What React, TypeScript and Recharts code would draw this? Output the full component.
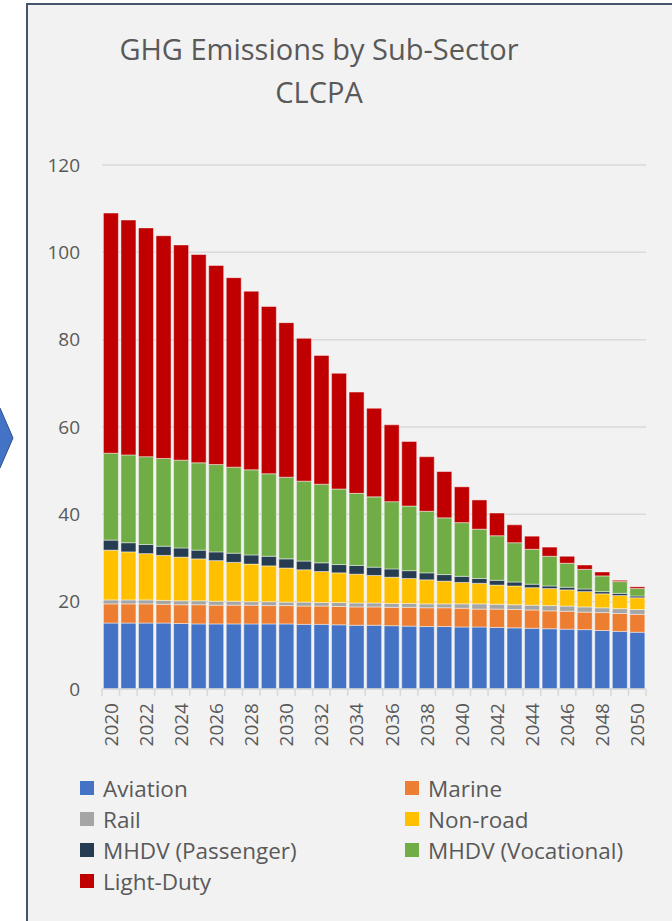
import React from "react";
import { BarChart, Bar, XAxis, YAxis, CartesianGrid } from "recharts";

const years = [
  "2020", "2021", "2022", "2023", "2024", "2025", "2026", "2027", "2028", "2029", "2030",
  "2031", "2032", "2033", "2034", "2035", "2036", "2037", "2038", "2039", "2040",
  "2041", "2042", "2043", "2044", "2045", "2046", "2047", "2048", "2049", "2050",
];

const aviation = [15.1, 15.1, 15.1, 15.1, 15.0, 14.9, 14.9, 14.9, 14.9, 14.9, 14.9, 14.8, 14.8, 14.7, 14.6, 14.6, 14.5, 14.4, 14.3, 14.3, 14.2, 14.2, 14.1, 14.0, 13.9, 13.8, 13.7, 13.6, 13.4, 13.2, 13.0];
const marine = [4.4, 4.4, 4.4, 4.3, 4.3, 4.4, 4.3, 4.3, 4.3, 4.2, 4.2, 4.2, 4.2, 4.2, 4.2, 4.2, 4.2, 4.3, 4.3, 4.3, 4.3, 4.1, 4.2, 4.2, 4.2, 4.1, 4.1, 4.0, 4.1, 4.1, 4.1];
const rail = [0.9, 0.9, 0.9, 0.9, 0.9, 0.9, 0.9, 0.9, 0.8, 0.9, 0.8, 0.9, 0.8, 0.9, 0.9, 0.9, 0.9, 0.9, 0.9, 0.9, 1.0, 1.2, 1.1, 1.1, 1.1, 1.2, 1.2, 1.2, 1.1, 1.1, 1.1];
const nonRoad = [11.4, 11.0, 10.6, 10.3, 10.0, 9.6, 9.3, 8.9, 8.6, 8.2, 7.8, 7.4, 7.1, 6.8, 6.6, 6.3, 6.0, 5.7, 5.5, 5.2, 4.9, 4.7, 4.4, 4.3, 4.0, 3.9, 3.7, 3.5, 3.2, 3.0, 2.7];
const mhdvPassenger = [2.3, 2.1, 2.1, 2.1, 2.1, 2.0, 2.0, 2.1, 2.1, 2.2, 2.1, 2.0, 2.0, 1.9, 2.0, 1.9, 1.9, 1.8, 1.6, 1.5, 1.4, 1.1, 1.1, 0.9, 0.8, 0.6, 0.6, 0.6, 0.5, 0.5, 0.4];
const mhdvVocational = [19.9, 20.1, 20.1, 20.1, 20.1, 20.0, 20.0, 19.7, 19.5, 18.9, 18.7, 18.3, 18.0, 17.3, 16.5, 16.1, 15.4, 14.8, 14.1, 13.0, 12.3, 11.3, 10.2, 9.0, 8.0, 6.8, 5.5, 4.5, 3.6, 2.7, 1.7];
const lightDuty = [55.0, 53.8, 52.4, 51.0, 49.3, 47.7, 45.6, 43.4, 40.9, 38.3, 35.4, 32.7, 29.5, 26.5, 23.2, 20.3, 17.6, 14.8, 12.5, 10.6, 8.2, 6.7, 5.2, 4.1, 3.0, 2.1, 1.6, 1.0, 0.9, 0.3, 0.4];

const yTicks = [0, 20, 40, 60, 80, 100, 120];

const series = [
  { key: "Aviation", values: aviation, color: "#4472c4" },
  { key: "Marine", values: marine, color: "#ed7d31" },
  { key: "Rail", values: rail, color: "#a5a5a5" },
  { key: "Non-road", values: nonRoad, color: "#ffc000" },
  { key: "MHDV (Passenger)", values: mhdvPassenger, color: "#263c50" },
  { key: "MHDV (Vocational)", values: mhdvVocational, color: "#70ad47" },
  { key: "Light-Duty", values: lightDuty, color: "#c00000" },
];

const data = years.map((year, i) => {
  const row: Record<string, string | number> = { year };
  series.forEach((s) => {
    row[s.key] = s.values[i];
  });
  return row;
});

const FONT = "'Open Sans', sans-serif";
const TEXT = "#595959";
const GRID = "#d9d9d9";
const STEP = 544 / years.length; // category width, for the boundary tick marks

const YearTick = (props: any) => {
  const { x, y, payload } = props;
  const i = payload.index;
  return (
    <g>
      <line x1={x + STEP / 2} x2={x + STEP / 2} y1={y} y2={y + 7} stroke={GRID} strokeWidth={1.5} />
      {i === 0 && <line x1={x - STEP / 2} x2={x - STEP / 2} y1={y} y2={y + 7} stroke={GRID} strokeWidth={1.5} />}
      {i % 2 === 0 && (
        <text
          x={x}
          y={y + 14}
          transform={`rotate(-90, ${x}, ${y + 14})`}
          textAnchor="end"
          dominantBaseline="central"
          fill={TEXT}
          fontSize={19}
          fontFamily={FONT}
        >
          {payload.value}
        </text>
      )}
    </g>
  );
};

export default function App() {
  return (
    <div style={{ position: "absolute", left: 0, top: 0, width: 672, height: 921, overflow: "hidden", background: "#fff" }}>
      <svg width={30} height={921} style={{ position: "absolute", left: 0, top: 0 }}>
        <polygon points="-5,408 0,408 13,438 0,468 -5,468" fill="#4472c4" stroke="#2f528f" strokeWidth={1} />
      </svg>
      <div
        style={{
          position: "absolute",
          left: 26,
          top: 3,
          width: 660,
          height: 930,
          background: "#f2f2f2",
          borderLeft: "2px solid #44546a",
          borderTop: "2px solid #44546a",
        }}
      />
      <div
        style={{
          position: "absolute",
          left: 0,
          top: 27,
          width: 638,
          textAlign: "center",
          fontFamily: FONT,
          fontSize: 29,
          lineHeight: "43px",
          color: TEXT,
        }}
      >
        <div>GHG Emissions by Sub-Sector</div>
        <div>CLCPA</div>
      </div>
      <div style={{ position: "absolute", left: 0, top: 0 }}>
        <BarChart
          width={672}
          height={921}
          data={data}
          margin={{ top: 165, right: 26, bottom: 172, left: 42 }}
          barCategoryGap="8%"
        >
          <CartesianGrid vertical={false} stroke={GRID} strokeWidth={1.5} />
          <XAxis
            dataKey="year"
            interval={0}
            height={60}
            tickLine={false}
            tickSize={0}
            tickMargin={0}
            axisLine={{ stroke: GRID, strokeWidth: 1.5 }}
            tick={<YearTick />}
          />
          <YAxis
            width={60}
            domain={[0, 120]}
            ticks={yTicks}
            axisLine={false}
            tickLine={false}
            tickSize={0}
            tickMargin={22}
            tick={{ fill: TEXT, fontSize: 19, fontFamily: FONT }}
          />
          {series.map((s) => (
            <Bar
              key={s.key}
              dataKey={s.key}
              stackId="a"
              fill={s.color}
              stroke="#ffffff"
              strokeOpacity={0.6}
              strokeWidth={0.75}
              isAnimationActive={false}
            />
          ))}
        </BarChart>
      </div>
      {series.map((s, i) => {
        const col = i % 2;
        const row = Math.floor(i / 2);
        return (
          <div
            key={s.key}
            style={{
              position: "absolute",
              left: col === 0 ? 80 : 405,
              top: 788 + row * 31 - 16,
              height: 32,
              display: "flex",
              alignItems: "center",
              fontFamily: FONT,
              fontSize: 22.5,
              color: TEXT,
              whiteSpace: "nowrap",
            }}
          >
            <span style={{ display: "inline-block", width: 14, height: 14, background: s.color, marginRight: 9 }} />
            {s.key}
          </div>
        );
      })}
    </div>
  );
}
